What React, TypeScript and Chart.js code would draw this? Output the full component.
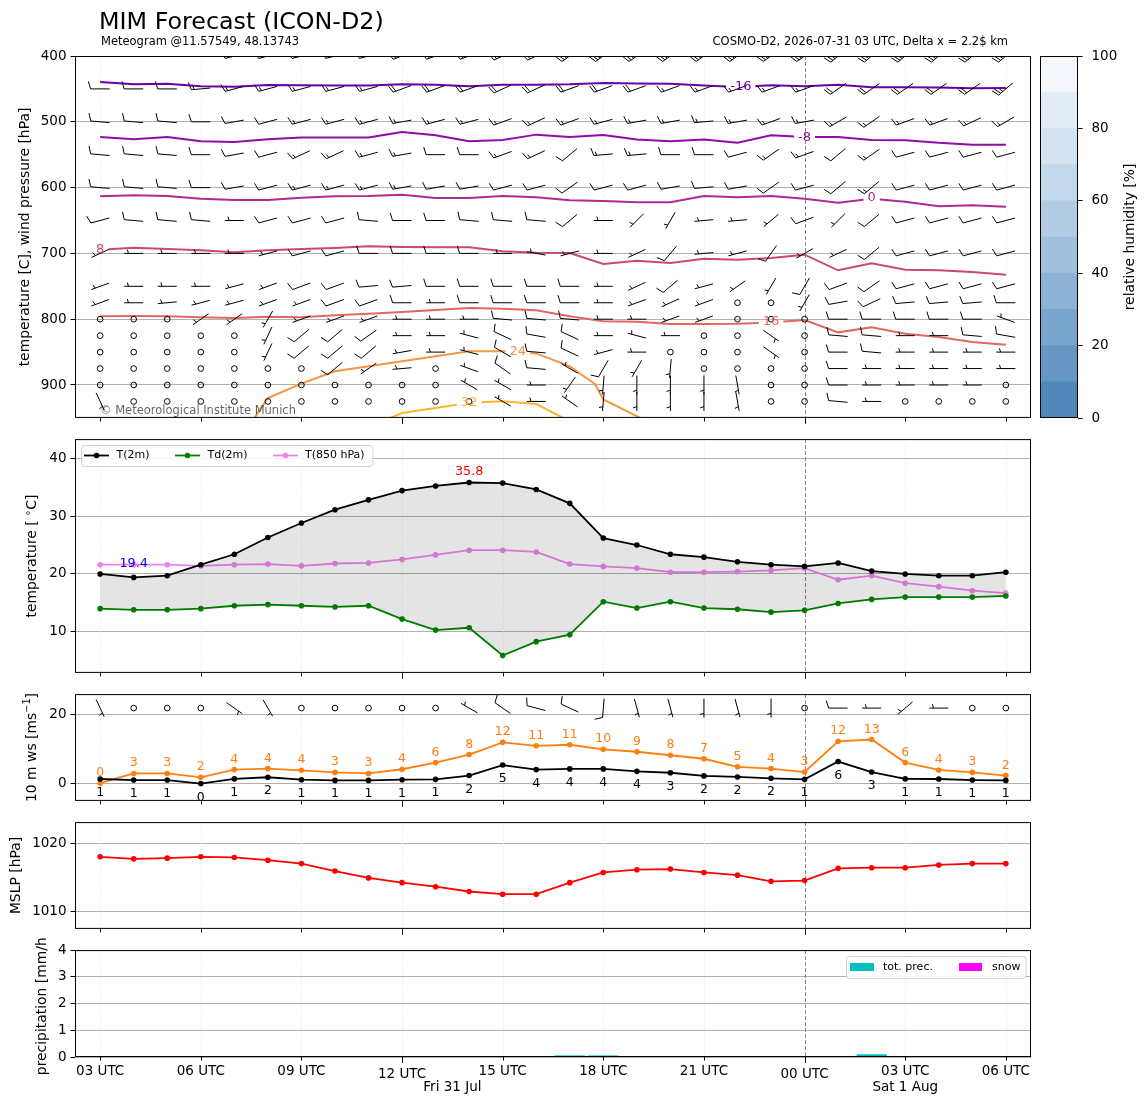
import React, { useEffect, useRef } from "react";
import { Chart, registerables } from "chart.js";

Chart.register(...registerables);

const FONT = "DejaVu Sans";
const X_MIN = -0.75;
const X_MAX = 27.75;

// ---------- time axis (hours after Fri 31 Jul 03 UTC) ----------
const hours = [0, 1, 2, 3, 4, 5, 6, 7, 8, 9, 10, 11, 12, 13, 14, 15, 16, 17, 18, 19, 20, 21, 22, 23, 24, 25, 26, 27];
const tickHours = [0, 3, 6, 9, 12, 15, 18, 21, 24, 27];
const tickLabels = ["03 UTC", "06 UTC", "09 UTC", "12 UTC", "15 UTC", "18 UTC", "21 UTC", "00 UTC", "03 UTC", "06 UTC"];
const majorTickHours = [9, 21];
const dayLabels = ["Fri 31 Jul", "Sat 1 Aug"];
const dayLabelHours = [10.5, 24];
const midnightHour = 21;

// ---------- panel 1: isotherms on pressure levels ----------
const isoLabels = ["-16", "-8", "0", "8", "16", "24", "32"];
const isoColors = ["#6a00a8", "#8f0da4", "#b12a90", "#cc4778", "#e4675e", "#f89540", "#fcb72f"];
const isoM16 = [439.5, 443, 442, 446, 446.6, 444, 444.6, 445, 445, 443, 443.6, 446, 443.6, 443.6, 443, 441, 441.7, 442, 445, 447, 444.6, 446, 443.6, 447.6, 447.6, 448, 449, 448.5];
const isoM8 = [523, 526.6, 523, 529.7, 530.7, 526.6, 524, 524, 524, 515.5, 520.6, 529.7, 527.7, 519.5, 523, 520, 527, 529.7, 527, 531.7, 520.6, 523, 523, 527.7, 528, 532, 534.8, 534.8];
const iso0 = [613, 611.7, 612.6, 616.9, 618.8, 618.8, 615.3, 613, 612.6, 610.8, 615.8, 615.8, 612.6, 614.6, 619.3, 620.4, 622.4, 622.4, 612.8, 614.6, 612.8, 616.9, 622.9, 617, 621.4, 628.5, 627, 629];
const iso8 = [694.4, 691.3, 693.3, 695.3, 698.4, 695.3, 693.3, 691.8, 689.2, 690.3, 690.8, 690.8, 696.8, 698.9, 699.4, 716.1, 711, 714.6, 708, 709.6, 707, 702, 725.7, 715.1, 724.7, 725.7, 728.3, 732.4];
const iso16 = [795.6, 795.1, 795.6, 797.1, 798.2, 796.1, 797.1, 794.1, 791.6, 789, 786, 783, 784, 786.5, 795.6, 803.2, 803.7, 807.3, 807.3, 806.8, 805, 801.2, 820, 812.4, 822, 827, 834.7, 838.8];
const iso24Hours = [4.6, 5, 6, 7, 8, 9, 10, 11, 12, 13, 14, 14.75, 15, 16.1];
const iso24 = [950, 919.8, 898, 879.2, 871.6, 864, 856.4, 848.8, 848.8, 852, 871.6, 898.5, 922, 950];
const iso32Hours = [8.65, 9, 10, 11, 12, 13, 13.8];
const iso32 = [950, 942.6, 935, 927, 924.8, 929, 950];
const isoLabelHours = [19.1, 21, 23, 0, 20, 12.45, 11];
const isoLabelPress = [447, 524.6, 615.8, 694.8, 804.3, 849.8, 927.4];

// wind barbs on pressure levels (direction wind comes from [deg], speed [kt])
const barbLevels = [400, 450, 500, 550, 600, 650, 700, 750, 775, 800, 825, 850, 875, 900, 925];
const barbDir = [
  [270, 270, 270, 270, 255, 255, 255, 255, 255, 250, 250, 250, 245, 245, 235, 235, 235, 235, 235, 235, 235, 235, 230, 230, 230, 230, 230, 230],
  [270, 270, 270, 265, 255, 255, 255, 255, 255, 250, 250, 250, 245, 245, 250, 250, 250, 250, 250, 250, 250, 250, 235, 235, 235, 235, 235, 230],
  [275, 275, 275, 270, 260, 255, 255, 255, 255, 260, 255, 255, 250, 245, 250, 255, 260, 260, 265, 260, 250, 260, 240, 235, 250, 250, 245, 240],
  [275, 275, 275, 270, 260, 255, 245, 245, 255, 260, 270, 270, 250, 245, 230, 265, 265, 270, 270, 255, 235, 250, 230, 235, 255, 255, 255, 255],
  [275, 275, 275, 270, 260, 255, 255, 255, 255, 260, 260, 260, 255, 255, 235, 255, 255, 260, 265, 260, 235, 255, 230, 230, 255, 255, 255, 255],
  [255, 275, 275, 275, 270, 255, 255, 255, 275, 270, 270, 275, 275, 275, 230, 270, 225, 210, 265, 265, 230, 250, 225, 230, 255, 255, 255, 255],
  [245, 270, 270, 270, 270, 255, 255, 255, 270, 270, 270, 270, 270, 280, 255, 270, 245, 220, 265, 255, 215, 240, 245, 230, 255, 255, 255, 255],
  [250, 270, 270, 270, 255, 250, 250, 250, 265, 265, 270, 270, 270, 270, 270, 270, 245, 230, 255, 235, 210, 210, 250, 235, 255, 255, 255, 255],
  [250, 270, 265, 255, 255, 250, 250, 250, 250, 270, 270, 270, 270, 270, 270, 270, 250, 245, 250, 0, 0, 210, 260, 245, 265, 265, 265, 270],
  [0, 0, 0, 235, 235, 210, 250, 250, 250, 270, 270, 270, 275, 275, 275, 270, 270, 250, 250, 0, 0, 0, 270, 270, 270, 270, 270, 290],
  [0, 0, 0, 0, 0, 205, 230, 230, 235, 270, 270, 285, 295, 280, 295, 270, 285, 270, 0, 0, 125, 0, 275, 275, 270, 270, 275, 280],
  [0, 0, 0, 0, 0, 205, 230, 230, 230, 260, 270, 285, 300, 275, 295, 255, 270, 0, 0, 0, 125, 0, 270, 275, 270, 270, 270, 270],
  [0, 0, 0, 0, 0, 0, 0, 230, 235, 265, 0, 290, 305, 275, 300, 210, 210, 185, 0, 0, 0, 0, 270, 270, 270, 270, 270, 270],
  [0, 0, 0, 0, 0, 0, 0, 0, 0, 0, 0, 300, 300, 270, 215, 185, 180, 180, 180, 170, 0, 0, 270, 270, 270, 270, 270, 0],
  [155, 0, 0, 0, 0, 0, 0, 0, 0, 0, 0, 0, 300, 270, 305, 185, 180, 180, 180, 170, 0, 0, 275, 270, 0, 0, 0, 0],
];
const barbKt = [
  [15, 15, 15, 15, 20, 20, 20, 20, 20, 20, 20, 20, 25, 25, 25, 25, 25, 25, 25, 25, 25, 25, 25, 25, 25, 25, 25, 25],
  [10, 10, 10, 15, 15, 15, 15, 15, 15, 20, 20, 20, 20, 20, 20, 20, 20, 15, 15, 15, 15, 15, 20, 20, 20, 20, 20, 25],
  [10, 10, 10, 10, 10, 10, 15, 15, 15, 15, 15, 15, 15, 15, 15, 15, 15, 15, 15, 15, 15, 15, 15, 15, 15, 15, 15, 15],
  [10, 10, 10, 10, 10, 10, 15, 15, 15, 15, 10, 10, 15, 15, 10, 15, 15, 10, 10, 10, 15, 15, 10, 15, 10, 10, 10, 10],
  [10, 10, 10, 10, 10, 10, 15, 15, 15, 15, 10, 10, 10, 10, 10, 10, 10, 10, 10, 10, 10, 10, 10, 15, 10, 10, 10, 10],
  [10, 10, 10, 10, 5, 10, 10, 10, 10, 10, 10, 10, 10, 10, 10, 5, 5, 5, 5, 5, 5, 10, 5, 10, 10, 10, 10, 10],
  [5, 5, 5, 5, 5, 5, 10, 10, 10, 10, 10, 10, 5, 5, 5, 5, 5, 10, 5, 5, 10, 5, 5, 10, 10, 10, 10, 10],
  [5, 5, 5, 5, 5, 5, 10, 10, 10, 10, 10, 10, 10, 10, 10, 5, 5, 10, 5, 5, 5, 10, 10, 10, 10, 10, 10, 10],
  [5, 5, 5, 5, 5, 5, 5, 10, 10, 10, 5, 10, 10, 10, 10, 5, 5, 5, 5, 0, 0, 5, 10, 10, 10, 10, 10, 10],
  [0, 0, 0, 5, 5, 5, 5, 5, 5, 5, 5, 5, 10, 10, 10, 5, 5, 5, 5, 0, 0, 0, 10, 10, 10, 10, 10, 5],
  [0, 0, 0, 0, 0, 5, 10, 10, 10, 5, 5, 5, 10, 10, 10, 5, 5, 5, 0, 0, 5, 0, 10, 10, 5, 5, 10, 10],
  [0, 0, 0, 0, 0, 5, 10, 10, 10, 5, 5, 5, 10, 10, 10, 5, 5, 0, 0, 0, 5, 0, 10, 10, 5, 5, 5, 5],
  [0, 0, 0, 0, 0, 0, 0, 10, 5, 5, 0, 5, 10, 10, 5, 10, 5, 5, 0, 0, 0, 0, 10, 5, 5, 5, 5, 5],
  [0, 0, 0, 0, 0, 0, 0, 0, 0, 0, 0, 5, 5, 5, 5, 5, 5, 5, 5, 5, 0, 0, 10, 5, 5, 5, 5, 0],
  [5, 0, 0, 0, 0, 0, 0, 0, 0, 0, 0, 0, 5, 5, 5, 5, 5, 5, 5, 5, 0, 0, 10, 5, 0, 0, 0, 0],
];

// relative humidity colour bar
const rhLevels = [0, 10, 20, 30, 40, 50, 60, 70, 80, 90, 100];
const rhColors = ["#5088bc", "#6596c4", "#7aa5cc", "#8db2d4", "#a0c0dc", "#b2cce3", "#c3d8ea", "#d4e3f0", "#e4edf6", "#f3f7fb"];

// ---------- panel 2: temperatures ----------
const t2m = [20.0, 19.4, 19.7, 21.6, 23.4, 26.3, 28.8, 31.1, 32.8, 34.4, 35.2, 35.8, 35.7, 34.6, 32.2, 26.2, 25.0, 23.4, 22.9, 22.1, 21.6, 21.3, 21.9, 20.5, 20.0, 19.7, 19.7, 20.3];
const td2m = [14.0, 13.8, 13.8, 14.0, 14.5, 14.7, 14.5, 14.3, 14.5, 12.2, 10.3, 10.7, 5.9, 8.3, 9.5, 15.2, 14.1, 15.2, 14.1, 13.9, 13.4, 13.7, 14.9, 15.6, 16.0, 16.0, 16.0, 16.2];
const t850 = [21.6, 21.6, 21.6, 21.4, 21.6, 21.7, 21.4, 21.8, 21.9, 22.5, 23.3, 24.1, 24.1, 23.8, 21.7, 21.3, 21.0, 20.3, 20.3, 20.4, 20.6, 21.0, 19.0, 19.7, 18.4, 17.8, 17.1, 16.7];

// ---------- panel 3: 10 m wind ----------
const ws10 = [1.4, 1.1, 1.1, 0.1, 1.44, 1.9, 1.2, 1.0, 1.0, 1.2, 1.3, 2.4, 5.4, 4.1, 4.3, 4.3, 3.6, 3.2, 2.3, 2.0, 1.6, 1.3, 6.4, 3.4, 1.44, 1.4, 1.1, 1.0];
const gust10 = [0.2, 3.0, 3.0, 1.9, 4.1, 4.4, 3.9, 3.3, 3.0, 4.2, 6.1, 8.4, 11.9, 10.9, 11.2, 9.9, 9.2, 8.2, 7.2, 4.9, 4.4, 3.4, 12.2, 12.7, 6.1, 4.0, 3.3, 2.4];
const wdir10 = [155, 0, 0, 0, 125, 150, 0, 0, 0, 0, 0, 300, 305, 285, 295, 185, 165, 165, 180, 165, 180, 0, 270, 270, 230, 270, 0, 0];

// ---------- panel 4: MSLP ----------
const mslp = [1018.1, 1017.8, 1017.9, 1018.1, 1018.0, 1017.6, 1017.1, 1016.0, 1015.0, 1014.3, 1013.7, 1013.0, 1012.6, 1012.6, 1014.3, 1015.8, 1016.2, 1016.3, 1015.8, 1015.4, 1014.5, 1014.6, 1016.4, 1016.5, 1016.5, 1016.9, 1017.1, 1017.1];

// ---------- panel 5: precipitation ----------
const totPrec = [0, 0, 0, 0, 0, 0, 0, 0, 0, 0, 0, 0, 0, 0, 0.06, 0.06, 0, 0, 0, 0, 0, 0, 0, 0.1, 0, 0, 0, 0];
const snowPrec = [0, 0, 0, 0, 0, 0, 0, 0, 0, 0, 0, 0, 0, 0, 0, 0, 0, 0, 0, 0, 0, 0, 0, 0, 0, 0, 0, 0];

// ---------- helpers ----------
function pts(xs: number[], ys: number[]) {
  return xs.map((x, i) => ({ x, y: ys[i] }));
}

function font(size: number) {
  return `${size}px "${FONT}"`;
}

function drawBarb(ctx: CanvasRenderingContext2D, x: number, y: number, dir: number, kt: number, L: number) {
  ctx.beginPath();
  if (kt < 2.6) {
    ctx.arc(x, y, 0.15 * L, 0, Math.PI * 2);
    ctx.stroke();
    return;
  }
  const r = (dir * Math.PI) / 180;
  const ux = Math.sin(r);
  const uy = -Math.cos(r);
  const px = -uy;
  const py = ux;
  const ex = x + (ux * L) / 2;
  const ey = y + (uy * L) / 2;
  ctx.moveTo(x - (ux * L) / 2, y - (uy * L) / 2);
  ctx.lineTo(ex, ey);
  let n = Math.round(kt / 5) * 5;
  const flags = Math.floor(n / 50);
  n -= flags * 50;
  const full = Math.floor(n / 10);
  n -= full * 10;
  const half = n >= 5;
  const h = 0.4 * L;
  const w = 0.25 * L;
  const sp = 0.15 * L;
  let s = 0;
  for (let i = 0; i < full; i++) {
    const bx = ex - ux * s;
    const by = ey - uy * s;
    ctx.moveTo(bx, by);
    ctx.lineTo(bx + px * h + (ux * w) / 2, by + py * h + (uy * w) / 2);
    s += sp;
  }
  if (half) {
    if (full === 0 && flags === 0) s += 1.5 * sp;
    const bx = ex - ux * s;
    const by = ey - uy * s;
    ctx.moveTo(bx, by);
    ctx.lineTo(bx + (px * h) / 2 + (ux * w) / 4, by + (py * h) / 2 + (uy * w) / 4);
  }
  ctx.stroke();
}

type Part = { text: string; size: number; dy?: number };
function drawRotated(ctx: CanvasRenderingContext2D, parts: Part[], cx: number, cy: number) {
  ctx.save();
  ctx.translate(cx, cy);
  ctx.rotate(-Math.PI / 2);
  ctx.textBaseline = "middle";
  ctx.textAlign = "left";
  ctx.fillStyle = "#000";
  let total = 0;
  for (const p of parts) {
    ctx.font = font(p.size);
    total += ctx.measureText(p.text).width;
  }
  let pos = -total / 2;
  for (const p of parts) {
    ctx.font = font(p.size);
    ctx.fillText(p.text, pos, p.dy || 0);
    pos += ctx.measureText(p.text).width;
  }
  ctx.restore();
}

function drawVerticalGrid(chart: any) {
  const { ctx, chartArea: a, scales } = chart;
  const x = scales.x;
  ctx.save();
  for (const h of tickHours) {
    const px = Math.round(x.getPixelForValue(h)) + 0.5;
    ctx.beginPath();
    if (h === midnightHour) {
      ctx.strokeStyle = "#6a6a6a";
      ctx.setLineDash([4, 2]);
      ctx.lineWidth = 0.8;
    } else {
      ctx.strokeStyle = "#dadada";
      ctx.setLineDash([1, 2]);
      ctx.lineWidth = 0.7;
    }
    ctx.moveTo(px, a.top);
    ctx.lineTo(px, a.bottom);
    ctx.stroke();
  }
  ctx.restore();
}

function drawFrameAndTicks(chart: any) {
  const { ctx, chartArea: a, scales } = chart;
  const x = scales.x;
  ctx.save();
  ctx.strokeStyle = "#000";
  ctx.lineWidth = 1;
  ctx.setLineDash([]);
  ctx.strokeRect(a.left + 0.5, a.top + 0.5, a.right - a.left - 1, a.bottom - a.top - 1);
  ctx.beginPath();
  for (const h of tickHours) {
    const px = Math.round(x.getPixelForValue(h)) + 0.5;
    const len = majorTickHours.includes(h) ? 6 : 3.5;
    ctx.moveTo(px, a.bottom);
    ctx.lineTo(px, a.bottom + len);
  }
  ctx.stroke();
  ctx.restore();
}

function yScale(min: number, max: number, step: number, extra: any = {}) {
  return {
    type: "linear",
    min,
    max,
    position: "left",
    afterFit: (s: any) => {
      s.width = 75;
    },
    afterBuildTicks: (s: any) => {
      s.ticks = s.ticks.filter((t: any) => Math.abs(t.value / step - Math.round(t.value / step)) < 1e-6);
    },
    ticks: {
      stepSize: step,
      font: { family: FONT, size: 13.5 },
      color: "#000",
      padding: 4,
      callback: (v: any) => String(Math.round(Number(v))),
    },
    grid: { color: "#b0b0b0", lineWidth: 1, drawTicks: true, tickLength: 4.5, tickColor: "#000", tickWidth: 1 },
    border: { display: false },
    ...extra,
  };
}

const xScale = { type: "linear", min: X_MIN, max: X_MAX, display: false, offset: false };

function baseOptions(padTop: number, padBottom: number, y: any, x: any = xScale) {
  return {
    animation: false,
    responsive: false,
    events: [],
    layout: { padding: { left: 0, right: 117, top: padTop, bottom: padBottom } },
    plugins: { legend: { display: false }, tooltip: { enabled: false } },
    scales: { x, y },
  };
}

function lineDs(data: any[], color: string, extra: any = {}) {
  return {
    data,
    borderColor: color,
    backgroundColor: color,
    borderWidth: 1.8,
    pointRadius: 2.8,
    pointBorderWidth: 0,
    pointBackgroundColor: color,
    tension: 0,
    fill: false,
    ...extra,
  };
}

export default function App() {
  const c1 = useRef<HTMLCanvasElement>(null);
  const c2 = useRef<HTMLCanvasElement>(null);
  const c3 = useRef<HTMLCanvasElement>(null);
  const c4 = useRef<HTMLCanvasElement>(null);
  const c5 = useRef<HTMLCanvasElement>(null);
  const cb = useRef<HTMLCanvasElement>(null);

  useEffect(() => {
    Chart.defaults.font.family = FONT;
    const charts: any[] = [];

    // ---------------- panel 1 ----------------
    const isoSeries = [
      pts(hours, isoM16),
      pts(hours, isoM8),
      pts(hours, iso0),
      pts(hours, iso8),
      pts(hours, iso16),
      pts(iso24Hours, iso24),
      pts(iso32Hours, iso32),
    ];
    const labelRect = (chart: any, i: number) => {
      const { ctx, scales } = chart;
      ctx.save();
      ctx.font = font(13);
      const tw = ctx.measureText(isoLabels[i]).width;
      ctx.restore();
      const cx = scales.x.getPixelForValue(isoLabelHours[i]);
      const cy = scales.y.getPixelForValue(isoLabelPress[i]);
      return { cx, cy, x: cx - tw / 2 - 4, y: cy - 9, w: tw + 8, h: 18 };
    };
    const p1Plugin = {
      id: "p1",
      beforeDatasetsDraw(chart: any) {
        drawVerticalGrid(chart);
      },
      beforeDatasetDraw(chart: any, args: any) {
        const r = labelRect(chart, args.index);
        const ctx = chart.ctx;
        ctx.save();
        ctx.beginPath();
        ctx.rect(0, 0, chart.width, chart.height);
        ctx.rect(r.x, r.y, r.w, r.h);
        ctx.clip("evenodd");
      },
      afterDatasetDraw(chart: any) {
        chart.ctx.restore();
      },
      afterDatasetsDraw(chart: any) {
        const { ctx, chartArea: a, scales } = chart;
        ctx.save();
        ctx.beginPath();
        ctx.rect(a.left, a.top, a.right - a.left, a.bottom - a.top);
        ctx.clip();
        ctx.strokeStyle = "#000";
        ctx.lineWidth = 1;
        barbLevels.forEach((lev, li) => {
          const py = scales.y.getPixelForValue(lev);
          hours.forEach((h, hi) => {
            drawBarb(ctx, scales.x.getPixelForValue(h), py, barbDir[li][hi], barbKt[li][hi], 19);
          });
        });
        // contour labels
        ctx.font = font(13);
        ctx.textAlign = "center";
        ctx.textBaseline = "middle";
        isoLabels.forEach((t, i) => {
          const r = labelRect(chart, i);
          ctx.fillStyle = isoColors[i];
          ctx.fillText(t, r.cx, r.cy);
        });
        // copyright
        ctx.fillStyle = "rgba(0,0,0,0.62)";
        ctx.font = font(11.5);
        ctx.textAlign = "left";
        ctx.textBaseline = "alphabetic";
        ctx.fillText("\u00a9 Meteorological Institute Munich", 100, 414);
        ctx.restore();
      },
      afterDraw(chart: any) {
        const ctx = chart.ctx;
        drawFrameAndTicks(chart);
        ctx.save();
        ctx.fillStyle = "#000";
        ctx.textBaseline = "alphabetic";
        ctx.textAlign = "left";
        ctx.font = font(23.8);
        ctx.fillText("MIM Forecast (ICON-D2)", 99, 29);
        ctx.font = font(11.5);
        ctx.fillText("Meteogram @11.57549, 48.13743", 101, 45);
        ctx.textAlign = "right";
        ctx.fillText("COSMO-D2, 2026-07-31 03 UTC, Delta x = 2.2$ km", 1008, 45);
        ctx.restore();
        drawRotated(ctx, [{ text: "temperature [C], wind pressure [hPa]", size: 13.9 }], 25, 237);
      },
    };
    charts.push(
      new Chart(c1.current as any, {
        type: "line",
        data: {
          datasets: isoSeries.map((d, i) => ({
            data: d,
            borderColor: isoColors[i],
            borderWidth: 2,
            pointRadius: 0,
            tension: 0,
            fill: false,
          })),
        },
        options: baseOptions(56, 12, yScale(400, 950, 100, { reverse: true })) as any,
        plugins: [p1Plugin],
      })
    );

    // ---------------- colour bar ----------------
    charts.push(
      new Chart(cb.current as any, {
        type: "bar",
        data: {
          labels: ["rh"],
          datasets: rhColors.map((c, i) => ({
            data: [rhLevels[i + 1] - rhLevels[i]],
            backgroundColor: c,
            borderWidth: 0,
            barPercentage: 1,
            categoryPercentage: 1,
          })),
        },
        options: {
          animation: false,
          responsive: false,
          events: [],
          layout: { padding: { left: 8, right: 0, top: 22, bottom: 22 } },
          plugins: { legend: { display: false }, tooltip: { enabled: false } },
          scales: {
            x: { display: false, stacked: true },
            y: {
              stacked: true,
              position: "right",
              min: 0,
              max: 100,
              afterFit: (s: any) => {
                s.width = 70;
              },
              ticks: { stepSize: 20, font: { family: FONT, size: 13.5 }, color: "#000", padding: 9 },
              grid: { drawOnChartArea: false, drawTicks: true, tickLength: 4.5, tickColor: "#000" },
              border: { display: false },
            },
          },
        } as any,
        plugins: [
          {
            id: "cbframe",
            afterDraw(chart: any) {
              const { ctx, chartArea: a } = chart;
              ctx.save();
              ctx.strokeStyle = "#000";
              ctx.lineWidth = 1;
              ctx.strokeRect(a.left + 0.5, a.top + 0.5, a.right - a.left - 1, a.bottom - a.top - 1);
              ctx.restore();
              drawRotated(ctx, [{ text: "relative humidity [%]", size: 13.9 }], 1130 - 1032, 237 - 34);
            },
          },
        ],
      })
    );

    // ---------------- panel 2 ----------------
    const p2Top = 427;
    const p2Plugin = {
      id: "p2",
      beforeDatasetsDraw(chart: any) {
        drawVerticalGrid(chart);
      },
      afterDatasetsDraw(chart: any) {
        const { ctx, scales } = chart;
        let iMax = 0;
        let iMin = 0;
        t2m.forEach((v, i) => {
          if (v > t2m[iMax]) iMax = i;
          if (v < t2m[iMin]) iMin = i;
        });
        ctx.save();
        ctx.font = font(12.8);
        ctx.textAlign = "center";
        ctx.textBaseline = "alphabetic";
        ctx.fillStyle = "#ff0000";
        ctx.fillText(t2m[iMax].toFixed(1), scales.x.getPixelForValue(hours[iMax]), scales.y.getPixelForValue(t2m[iMax]) - 8);
        ctx.fillStyle = "#0000ff";
        ctx.fillText(t2m[iMin].toFixed(1), scales.x.getPixelForValue(hours[iMin]), scales.y.getPixelForValue(t2m[iMin]) - 10);
        ctx.restore();
      },
      afterDraw(chart: any) {
        const ctx = chart.ctx;
        drawFrameAndTicks(chart);
        // legend
        ctx.save();
        ctx.translate(0, -p2Top);
        ctx.beginPath();
        (ctx as any).roundRect(81.5, 445.5, 291.5, 21, 3);
        ctx.fillStyle = "rgba(255,255,255,0.85)";
        ctx.fill();
        ctx.strokeStyle = "#d0d0d0";
        ctx.lineWidth = 1;
        ctx.stroke();
        const items = [
          { label: "T(2m)", color: "#000000", x1: 84, x2: 109, tx: 116.5 },
          { label: "Td(2m)", color: "#008000", x1: 175, x2: 200, tx: 207.5 },
          { label: "T(850 hPa)", color: "#ee82ee", x1: 273, x2: 298, tx: 305 },
        ];
        const ly = 455.5;
        for (const it of items) {
          ctx.strokeStyle = it.color;
          ctx.fillStyle = it.color;
          ctx.lineWidth = 1.8;
          ctx.beginPath();
          ctx.moveTo(it.x1, ly);
          ctx.lineTo(it.x2, ly);
          ctx.stroke();
          ctx.beginPath();
          ctx.arc((it.x1 + it.x2) / 2, ly, 2.8, 0, Math.PI * 2);
          ctx.fill();
          ctx.fillStyle = "#000";
          ctx.font = font(11);
          ctx.textBaseline = "middle";
          ctx.textAlign = "left";
          ctx.fillText(it.label, it.tx, ly);
        }
        ctx.restore();
        drawRotated(
          ctx,
          [
            { text: "temperature [ ", size: 13.9 },
            { text: "\u2218", size: 10, dy: -4 },
            { text: "C]", size: 13.9 },
          ],
          32,
          556 - p2Top
        );
      },
    };
    charts.push(
      new Chart(c2.current as any, {
        type: "line",
        data: {
          datasets: [
            lineDs(pts(hours, t2m), "#000000", { fill: "+1", backgroundColor: "rgba(0,0,0,0.105)" }),
            lineDs(pts(hours, td2m), "#008000"),
            lineDs(pts(hours, t850), "#ee82ee"),
          ],
        },
        options: baseOptions(12, 12, yScale(2.9, 43.3, 10)) as any,
        plugins: [p2Plugin],
      })
    );

    // ---------------- panel 3 ----------------
    const p3Top = 682;
    const p3Plugin = {
      id: "p3",
      beforeDatasetsDraw(chart: any) {
        drawVerticalGrid(chart);
      },
      afterDatasetsDraw(chart: any) {
        const { ctx, scales, chartArea: a } = chart;
        ctx.save();
        ctx.beginPath();
        ctx.rect(a.left, a.top, a.right - a.left, a.bottom - a.top);
        ctx.clip();
        ctx.strokeStyle = "#000";
        ctx.lineWidth = 1;
        const by = scales.y.getPixelForValue(21.7);
        hours.forEach((h, i) => {
          drawBarb(ctx, scales.x.getPixelForValue(h), by, wdir10[i], ws10[i] * 1.944, 19);
        });
        ctx.restore();
        ctx.save();
        ctx.font = font(12.5);
        ctx.textAlign = "center";
        ctx.textBaseline = "alphabetic";
        hours.forEach((h, i) => {
          const px = scales.x.getPixelForValue(h);
          ctx.fillStyle = "#ff7f0e";
          ctx.fillText(String(Math.round(gust10[i])), px, scales.y.getPixelForValue(gust10[i]) - 7);
          ctx.fillStyle = "#000";
          ctx.fillText(String(Math.round(ws10[i])), px, scales.y.getPixelForValue(ws10[i]) + 17);
        });
        ctx.restore();
      },
      afterDraw(chart: any) {
        drawFrameAndTicks(chart);
        drawRotated(
          chart.ctx,
          [
            { text: "10 m ws [ms", size: 13.9 },
            { text: "\u22121", size: 9.7, dy: -5 },
            { text: "]", size: 13.9 },
          ],
          32,
          747.5 - p3Top
        );
      },
    };
    charts.push(
      new Chart(c3.current as any, {
        type: "line",
        data: {
          datasets: [lineDs(pts(hours, ws10), "#000000"), lineDs(pts(hours, gust10), "#ff7f0e")],
        },
        options: baseOptions(12, 12, yScale(-4.86, 25.7, 20)) as any,
        plugins: [p3Plugin],
      })
    );

    // ---------------- panel 4 ----------------
    const p4Top = 810;
    charts.push(
      new Chart(c4.current as any, {
        type: "line",
        data: { datasets: [lineDs(pts(hours, mslp), "#ff0000")] },
        options: baseOptions(12, 12, yScale(1007.5, 1023.2, 10)) as any,
        plugins: [
          {
            id: "p4",
            beforeDatasetsDraw(chart: any) {
              drawVerticalGrid(chart);
            },
            afterDraw(chart: any) {
              drawFrameAndTicks(chart);
              drawRotated(chart.ctx, [{ text: "MSLP [hPa]", size: 13.9 }], 16, 875.5 - p4Top);
            },
          },
        ],
      })
    );

    // ---------------- panel 5 ----------------
    const p5Top = 938;
    charts.push(
      new Chart(c5.current as any, {
        type: "bar",
        data: {
          datasets: [
            {
              data: pts(hours, totPrec),
              backgroundColor: "#00bfbf",
              borderWidth: 0,
              barPercentage: 0.9,
              categoryPercentage: 1,
              grouped: false,
            },
            {
              data: pts(hours, snowPrec),
              backgroundColor: "#ff00ff",
              borderWidth: 0,
              barPercentage: 0.9,
              categoryPercentage: 1,
              grouped: false,
            },
          ],
        },
        options: baseOptions(12, 48, yScale(0, 4, 1), { ...xScale, grid: { offset: false } }) as any,
        plugins: [
          {
            id: "p5",
            beforeDatasetsDraw(chart: any) {
              drawVerticalGrid(chart);
            },
            afterDraw(chart: any) {
              const { ctx, scales } = chart;
              drawFrameAndTicks(chart);
              ctx.save();
              ctx.fillStyle = "#000";
              ctx.font = font(13.5);
              ctx.textAlign = "center";
              ctx.textBaseline = "alphabetic";
              tickHours.forEach((h, i) => {
                const major = majorTickHours.includes(h);
                ctx.fillText(tickLabels[i], scales.x.getPixelForValue(h), (major ? 1077.5 : 1075) - p5Top);
              });
              dayLabels.forEach((t, i) => {
                ctx.fillText(t, scales.x.getPixelForValue(dayLabelHours[i]), 1091 - p5Top);
              });
              // legend
              ctx.translate(0, -p5Top);
              ctx.beginPath();
              (ctx as any).roundRect(846.5, 956.5, 179.5, 22, 3);
              ctx.fillStyle = "rgba(255,255,255,0.85)";
              ctx.fill();
              ctx.strokeStyle = "#d0d0d0";
              ctx.lineWidth = 1;
              ctx.stroke();
              ctx.fillStyle = "#00bfbf";
              ctx.fillRect(850, 963, 24, 8);
              ctx.fillStyle = "#ff00ff";
              ctx.fillRect(959, 963, 23, 8);
              ctx.fillStyle = "#000";
              ctx.font = font(11);
              ctx.textAlign = "left";
              ctx.textBaseline = "middle";
              ctx.fillText("tot. prec.", 883, 967.5);
              ctx.fillText("snow", 992, 967.5);
              ctx.restore();
              drawRotated(ctx, [{ text: "precipitation [mm/h]", size: 13.9 }], 42, 1003.5 - p5Top);
            },
          },
        ],
      })
    );

    return () => {
      charts.forEach((c) => c.destroy());
    };
  }, []);

  const abs = (top: number, left = 0): React.CSSProperties => ({ position: "absolute", left, top });
  return (
    <div style={{ position: "absolute", left: 0, top: 0, width: 1148, height: 1105, background: "#fff", overflow: "hidden" }}>
      <canvas ref={cb} width={116} height={406} style={abs(34, 1032)} />
      <canvas ref={c1} width={1148} height={430} style={abs(0)} />
      <canvas ref={c2} width={1148} height={258} style={abs(427)} />
      <canvas ref={c3} width={1148} height={131} style={abs(682)} />
      <canvas ref={c4} width={1148} height={131} style={abs(810)} />
      <canvas ref={c5} width={1148} height={167} style={abs(938)} />
    </div>
  );
}
